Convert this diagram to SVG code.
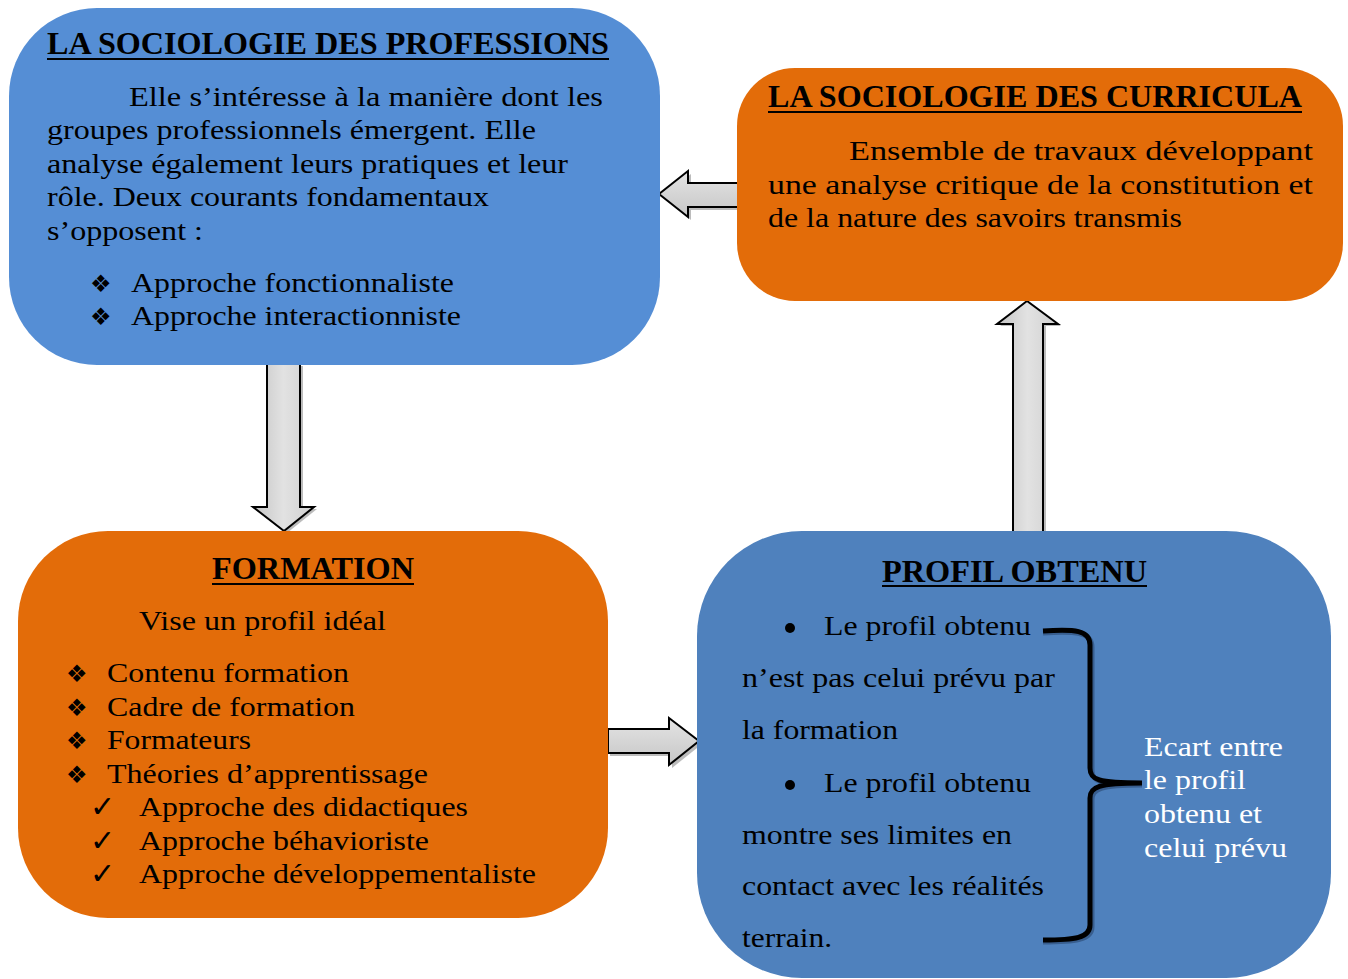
<svg xmlns="http://www.w3.org/2000/svg" width="1348" height="979" viewBox="0 0 1348 979">
<defs>
<linearGradient id="gv" x1="0" y1="0" x2="1" y2="0"><stop offset="0" stop-color="#c4c4c4"/><stop offset="0.5" stop-color="#e2e2e2"/><stop offset="1" stop-color="#cfcfcf"/></linearGradient>
<linearGradient id="gh" x1="0" y1="0" x2="0" y2="1"><stop offset="0" stop-color="#e4e4e4"/><stop offset="1" stop-color="#c6c6c6"/></linearGradient>
</defs>
<style>
text{font-family:'Liberation Serif',Tinos,'Times New Roman',serif}
.t{font-size:28px;fill:#000}
.h{font-size:32px;font-weight:bold;fill:#000}
.w{fill:#fff}
.s{font-family:'DejaVu Sans',sans-serif;font-size:24px;fill:#000}
.c{font-family:'DejaVu Sans',sans-serif;font-size:30px;fill:#000}
.ul{stroke:#000;stroke-width:2}
.arr{stroke:#000;stroke-width:2;stroke-linejoin:miter}
.sh{fill:#7a7a7a;opacity:0.5}
</style>
<rect width="1348" height="979" fill="#fff"/>

<g id="connectors">
<path class="sh" d="M740,186 L691,186 L691,174 L662,196 L691,220 L691,210 L740,210 Z"/>
<path class="arr" fill="url(#gh)" d="M738,183 L688,183 L688,171 L659,194 L688,217 L688,207 L738,207 Z"/>
<path class="sh" d="M270,366 L303,366 L303,509 L317,509 L287,533 L256,509 L270,509 Z"/>
<path class="arr" fill="url(#gv)" d="M267,364 L300,364 L300,507 L314,507 L284,531 L253,507 L267,507 Z"/>
<path class="sh" d="M1016,534 L1046,534 L1046,326 L1061,326 L1030,304 L1000,326 L1016,326 Z"/>
<path class="arr" fill="url(#gv)" d="M1013,532 L1043,532 L1043,324 L1058,324 L1027,301 L997,324 L1013,324 Z"/>
<path class="sh" d="M610,732 L672,732 L672,721 L702,744 L672,768 L672,756 L610,756 Z"/>
<path class="arr" fill="url(#gh)" d="M608,729 L669,729 L669,718 L699,741 L669,765 L669,753 L608,753 Z"/>
</g>

<g id="professions">
<rect x="9" y="8" width="651" height="357" rx="88" ry="88" fill="#558ED5"/>
<text class="h" x="47" y="54" textLength="562" lengthAdjust="spacingAndGlyphs">LA SOCIOLOGIE DES PROFESSIONS</text>
<line class="ul" x1="47" y1="59" x2="609" y2="59"/>
<text class="t" x="129" y="106" textLength="474" lengthAdjust="spacingAndGlyphs">Elle s’intéresse à la manière  dont les</text>
<text class="t" x="47" y="139" textLength="489" lengthAdjust="spacingAndGlyphs">groupes professionnels émergent. Elle</text>
<text class="t" x="47" y="173" textLength="521" lengthAdjust="spacingAndGlyphs">analyse également leurs pratiques et leur</text>
<text class="t" x="47" y="206" textLength="442" lengthAdjust="spacingAndGlyphs">rôle. Deux courants fondamentaux</text>
<text class="t" x="47" y="240" textLength="156" lengthAdjust="spacingAndGlyphs">s’opposent :</text>
<text class="s" x="90" y="292">❖</text>
<text class="t" x="131" y="292" textLength="323" lengthAdjust="spacingAndGlyphs">Approche fonctionnaliste</text>
<text class="s" x="90" y="325">❖</text>
<text class="t" x="131" y="325" textLength="330" lengthAdjust="spacingAndGlyphs">Approche interactionniste</text>
</g>

<g id="curricula">
<rect x="737" y="68" width="606" height="233" rx="58" ry="58" fill="#E36C09"/>
<text class="h" x="768" y="107" textLength="534" lengthAdjust="spacingAndGlyphs">LA SOCIOLOGIE DES CURRICULA</text>
<line class="ul" x1="768" y1="112" x2="1302" y2="112"/>
<text class="t" x="849" y="160" textLength="464" lengthAdjust="spacingAndGlyphs">Ensemble de travaux développant</text>
<text class="t" x="768" y="194" textLength="545" lengthAdjust="spacingAndGlyphs">une analyse critique de la constitution et</text>
<text class="t" x="768" y="227" textLength="414" lengthAdjust="spacingAndGlyphs">de la nature des savoirs transmis</text>
</g>

<g id="formation">
<rect x="18" y="531" width="590" height="387" rx="90" ry="90" fill="#E36C09"/>
<text class="h" x="212" y="579" textLength="202" lengthAdjust="spacingAndGlyphs">FORMATION</text>
<line class="ul" x1="212" y1="584" x2="414" y2="584"/>
<text class="t" x="139" y="630" textLength="247" lengthAdjust="spacingAndGlyphs">Vise un profil idéal</text>
<text class="s" x="66" y="682">❖</text>
<text class="t" x="107" y="682" textLength="242" lengthAdjust="spacingAndGlyphs">Contenu formation</text>
<text class="s" x="66" y="716">❖</text>
<text class="t" x="107" y="716" textLength="248" lengthAdjust="spacingAndGlyphs">Cadre de formation</text>
<text class="s" x="66" y="749">❖</text>
<text class="t" x="107" y="749" textLength="144" lengthAdjust="spacingAndGlyphs">Formateurs</text>
<text class="s" x="66" y="783">❖</text>
<text class="t" x="107" y="783" textLength="321" lengthAdjust="spacingAndGlyphs">Théories d’apprentissage</text>
<text class="c" x="90" y="817">✓</text>
<text class="t" x="139" y="816" textLength="329" lengthAdjust="spacingAndGlyphs">Approche des didactiques</text>
<text class="c" x="90" y="851">✓</text>
<text class="t" x="139" y="850" textLength="290" lengthAdjust="spacingAndGlyphs">Approche béhavioriste</text>
<text class="c" x="90" y="884">✓</text>
<text class="t" x="139" y="883" textLength="397" lengthAdjust="spacingAndGlyphs">Approche développementaliste</text>
</g>

<g id="profil">
<rect x="697" y="531" width="634" height="447" rx="105" ry="105" fill="#4F81BD"/>
<text class="h" x="882" y="582" textLength="265" lengthAdjust="spacingAndGlyphs">PROFIL OBTENU</text>
<line class="ul" x1="882" y1="586" x2="1147" y2="586"/>
<circle cx="790" cy="628" r="5" fill="#000"/>
<text class="t" x="824" y="635" textLength="207" lengthAdjust="spacingAndGlyphs">Le profil obtenu</text>
<text class="t" x="742" y="687" textLength="313" lengthAdjust="spacingAndGlyphs">n’est pas celui prévu par</text>
<text class="t" x="742" y="739" textLength="156" lengthAdjust="spacingAndGlyphs">la formation</text>
<circle cx="790" cy="785" r="5" fill="#000"/>
<text class="t" x="824" y="792" textLength="207" lengthAdjust="spacingAndGlyphs">Le profil obtenu</text>
<text class="t" x="742" y="844" textLength="270" lengthAdjust="spacingAndGlyphs">montre ses limites en</text>
<text class="t" x="742" y="895" textLength="302" lengthAdjust="spacingAndGlyphs">contact avec les réalités</text>
<text class="t" x="742" y="947" textLength="90" lengthAdjust="spacingAndGlyphs">terrain.</text>
<path d="M1043,633 C1075,631 1092,632 1092,647 L1092,770 C1092,782 1100,785 1142,785 C1100,785 1092,789 1092,800 L1092,927 C1092,940 1075,942 1043,942" fill="none" stroke="#2a4870" stroke-width="5" opacity="0.6"/>
<path d="M1043,631 C1075,629 1090,630 1090,645 L1090,768 C1090,780 1098,783 1142,783 C1098,783 1090,787 1090,798 L1090,925 C1090,938 1075,940 1043,940" fill="none" stroke="#000" stroke-width="5"/>
<text class="t w" x="1144" y="756" textLength="139" lengthAdjust="spacingAndGlyphs">Ecart entre</text>
<text class="t w" x="1144" y="789" textLength="102" lengthAdjust="spacingAndGlyphs">le profil</text>
<text class="t w" x="1144" y="823" textLength="118" lengthAdjust="spacingAndGlyphs">obtenu et</text>
<text class="t w" x="1144" y="857" textLength="143" lengthAdjust="spacingAndGlyphs">celui prévu</text>
</g>
</svg>
